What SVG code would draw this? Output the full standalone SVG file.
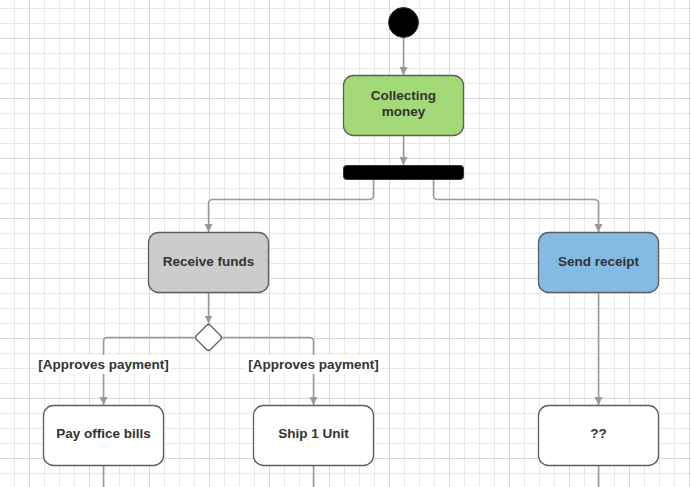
<svg xmlns="http://www.w3.org/2000/svg" width="691" height="487" viewBox="0 0 691 487">
  <defs>
    <pattern id="minor" x="14" y="8" width="15" height="15" patternUnits="userSpaceOnUse">
      <path d="M0.5,0 V15 M0,0.5 H15" stroke="#e8e8e8" stroke-width="1" fill="none"/>
    </pattern>
    <pattern id="major" x="29" y="38" width="60" height="60" patternUnits="userSpaceOnUse">
      <path d="M0.5,0 V60 M0,0.5 H60" stroke="#d8d8d8" stroke-width="1" fill="none"/>
    </pattern>
    <marker id="arrow" viewBox="0 0 10 10" refX="10" refY="5" markerWidth="8" markerHeight="10" markerUnits="userSpaceOnUse" orient="auto">
      <path d="M0,0 L10,5 L0,10 Z" fill="#999999"/>
    </marker>
  </defs>
  <style>
    .node { stroke: #5e5e5e; stroke-width: 1.3; }
    .lbl { font-family: "Liberation Sans", Arial, sans-serif; font-weight: bold; font-size: 13.5px; fill: #333333; text-anchor: middle; }
    .conn { fill: none; stroke: #999999; stroke-width: 1.5; }
  </style>
  <rect width="691" height="487" fill="#ffffff"/>
  <rect width="691" height="487" fill="url(#minor)"/>
  <rect width="691" height="487" fill="url(#major)"/>

  <g id="connectors">
    <path class="conn" d="M403.5,37.5 V75" marker-end="url(#arrow)"/>
    <path class="conn" d="M403.5,135.5 V165" marker-end="url(#arrow)"/>
    <path class="conn" d="M373.5,179.5 V195.5 Q373.5,199.5 369.5,199.5 H212.5 Q208.5,199.5 208.5,203.5 V232" marker-end="url(#arrow)"/>
    <path class="conn" d="M433.5,179.5 V195.5 Q433.5,199.5 437.5,199.5 H594.5 Q598.5,199.5 598.5,203.5 V232" marker-end="url(#arrow)"/>
    <path class="conn" d="M208.5,292.5 V323.5" marker-end="url(#arrow)"/>
    <path class="conn" d="M194.5,337.5 H107.5 Q103.5,337.5 103.5,341.5 V405" marker-end="url(#arrow)"/>
    <path class="conn" d="M222.5,337.5 H309.5 Q313.5,337.5 313.5,341.5 V405" marker-end="url(#arrow)"/>
    <path class="conn" d="M598.5,292.5 V405" marker-end="url(#arrow)"/>
    <path class="conn" d="M103.5,465.5 V487 M313.5,465.5 V487 M598.5,465.5 V487"/>
    <g id="guard-left">
      <rect x="36" y="355" width="135" height="19" fill="#ffffff"/>
      <text class="lbl" x="103.5" y="369">[Approves payment]</text>
    </g>
    <g id="guard-right">
      <rect x="246" y="355" width="135" height="19" fill="#ffffff"/>
      <text class="lbl" x="313.5" y="369">[Approves payment]</text>
    </g>
  </g>

  <g id="start">
    <circle cx="403.5" cy="22.5" r="15" fill="#000000" stroke="#333333" stroke-width="1"/>
  </g>
  <g id="collecting-money">
    <rect class="node" x="343.5" y="75.5" width="120" height="60" rx="10" fill="#a3d977"/>
    <text class="lbl" x="403.5" y="100">Collecting</text>
    <text class="lbl" x="403.5" y="115.5">money</text>
  </g>
  <g id="fork">
    <rect x="343.5" y="165.5" width="120" height="14" rx="3" fill="#000000" stroke="#333333" stroke-width="1"/>
  </g>
  <g id="receive-funds">
    <rect class="node" x="148.5" y="232.5" width="120" height="60" rx="10" fill="#cccccc"/>
    <text class="lbl" x="208.5" y="266">Receive funds</text>
  </g>
  <g id="send-receipt">
    <rect class="node" x="538.5" y="232.5" width="120" height="60" rx="10" fill="#83bbe5"/>
    <text class="lbl" x="598.5" y="266">Send receipt</text>
  </g>
  <g id="decision">
    <path class="node" d="M206.5,325.5 Q208.5,323.5 210.5,325.5 L220.5,335.5 Q222.5,337.5 220.5,339.5 L210.5,349.5 Q208.5,351.5 206.5,349.5 L196.5,339.5 Q194.5,337.5 196.5,335.5 Z" fill="#ffffff"/>
  </g>
  <g id="pay-office-bills">
    <rect class="node" x="43.5" y="405.5" width="120" height="60" rx="10" fill="#ffffff"/>
    <text class="lbl" x="103.5" y="438">Pay office bills</text>
  </g>
  <g id="ship-1-unit">
    <rect class="node" x="253.5" y="405.5" width="120" height="60" rx="10" fill="#ffffff"/>
    <text class="lbl" x="313.5" y="438">Ship 1 Unit</text>
  </g>
  <g id="unknown">
    <rect class="node" x="538.5" y="405.5" width="120" height="60" rx="10" fill="#ffffff"/>
    <text class="lbl" x="598.5" y="438">??</text>
  </g>
</svg>
